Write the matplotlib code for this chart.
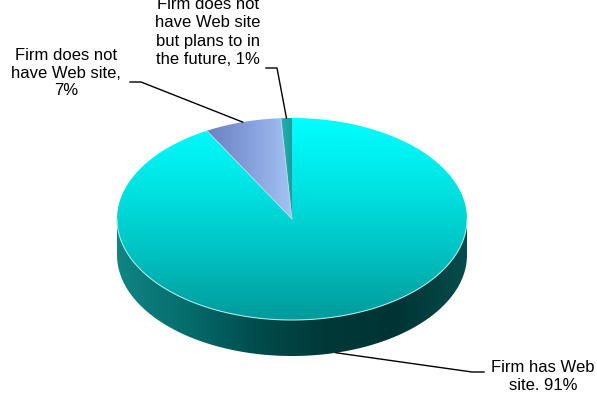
import numpy as np
import matplotlib
matplotlib.use('Agg')
import matplotlib.pyplot as plt
from matplotlib.colors import LinearSegmentedColormap
from matplotlib.patches import Polygon

plt.rcParams['font.family'] = ['Liberation Sans', 'DejaVu Sans']

# Survey shares (percent), in drawing order clockwise from 12 o'clock
labels = ["Firm has Web\nsite. 91%",
          "Firm does not\nhave Web site,\n7%",
          "Firm does not\nhave Web site\nbut plans to in\nthe future, 1%"]
shares = [91, 7, 1]

# Pie geometry in pixel space
cx, cy = 292, 219
a, b = 175, 101
depth = 36

W, H = 597, 396
fig = plt.figure(figsize=(W / 100, H / 100), dpi=100)
ax = fig.add_axes([0, 0, 1, 1])
ax.set_xlim(0, W)
ax.set_ylim(H, 0)
ax.axis('off')

bounds = np.concatenate([[0], np.cumsum(shares)]) / np.sum(shares) * 360.0


def rim(phi, dy=0.0):
    phi = np.radians(phi)
    return cx + a * np.sin(phi), cy - b * np.cos(phi) + dy


def arc(p0, p1, dy=0.0, n=200):
    phis = np.linspace(p0, p1, n)
    x, y = rim(phis, dy)
    return np.column_stack([x, y])


def gradient_fill(poly, cmap, direction='v', z=1):
    patch = Polygon(poly, closed=True, facecolor='none', edgecolor='none')
    ax.add_patch(patch)
    x0, y0 = poly.min(axis=0)
    x1, y1 = poly.max(axis=0)
    if direction == 'v':
        grad = np.linspace(0, 1, 256)[:, None] * np.ones((1, 4))
    else:
        grad = np.ones((4, 1)) * np.linspace(0, 1, 256)[None, :]
    im = ax.imshow(grad, cmap=cmap, extent=(x0, x1, y1, y0), origin='upper',
                   aspect='auto', interpolation='bilinear', zorder=z)
    im.set_clip_path(patch)


top_cmap = LinearSegmentedColormap.from_list(
    'top', ['#00FFFF', '#00E4E4', '#00C2C2', '#009A9A'])
side_cmap = LinearSegmentedColormap.from_list(
    'side', ['#108484', '#066C6C', '#004C4C', '#003838', '#003434', '#064C4C'])
blue_cmap = LinearSegmentedColormap.from_list(
    'blue', ['#6C80C2', '#86A0DC', '#A4C4F4'])
small_cmap = LinearSegmentedColormap.from_list(
    'small', ['#24B0B0', '#1A9C9C'])

# Front wall of the big slice
side = np.vstack([arc(90, 270), arc(270, 90, depth)])
gradient_fill(side, side_cmap, 'h', z=1)

# Top faces
cmaps = [top_cmap, blue_cmap, small_cmap]
dirs = ['v', 'h', 'h']
for i in range(len(shares)):
    poly = np.vstack([[cx, cy], arc(bounds[i], bounds[i + 1])])
    gradient_fill(poly, cmaps[i], dirs[i], z=2)

# Light rim and slice edges
front = arc(90, 270)
ax.plot(front[:, 0], front[:, 1], color='#9EEAEA', lw=0.8, zorder=3)
for phi in bounds[1:-1]:
    ex, ey = rim(phi)
    ax.plot([cx, ex], [cy, ey], color='#B8E0F0', lw=0.6, zorder=3)

# Leader lines from the middle of each slice's rim
mids = (bounds[:-1] + bounds[1:]) / 2
anchor0 = rim(mids[0], depth)
anchor1 = rim(mids[1])
anchor2 = rim(mids[2])

ax.plot([anchor0[0], 472, 484], [anchor0[1], 372, 372], color='black', lw=1, zorder=4)
ax.plot([anchor1[0], 141, 130], [anchor1[1], 82, 82], color='black', lw=1, zorder=4)
ax.plot([anchor2[0], 277, 266], [anchor2[1], 68, 68], color='black', lw=1, zorder=4)

ax.text(543, 377, labels[0], ha='center', va='center', fontsize=12, linespacing=1.25)
ax.text(66, 73, labels[1], ha='center', va='center', fontsize=12, linespacing=1.2)
ax.text(208, 32, labels[2], ha='center', va='center', fontsize=12, linespacing=1.28)

fig.savefig('out.png', dpi=100)
